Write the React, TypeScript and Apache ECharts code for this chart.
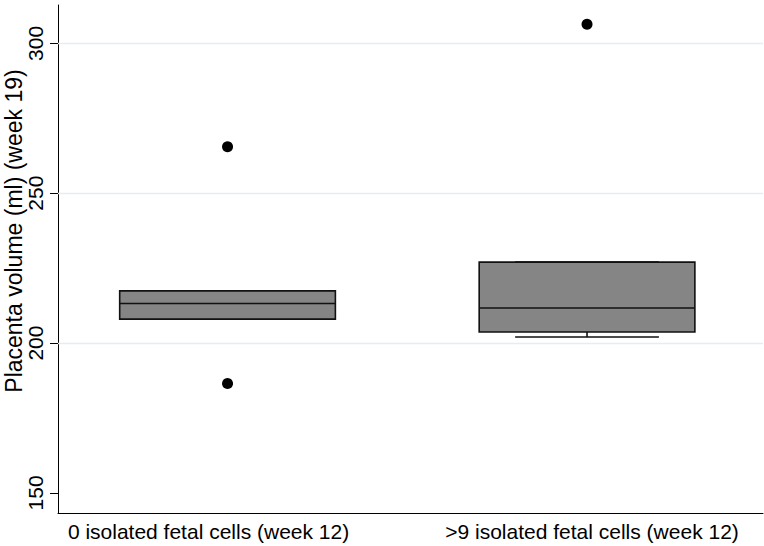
import React, { useEffect, useRef } from "react";
import * as echarts from "echarts";

const categories = ["0 isolated fetal cells (week 12)", ">9 isolated fetal cells (week 12)"];
// [lower adjacent, Q1, median, Q3, upper adjacent]
const boxStats = [
  [208.0, 208.0, 213.2, 217.4, 217.4],
  [202.0, 203.7, 211.7, 227.0, 227.0],
];
const outliers = [
  [0, 265.5],
  [0, 186.5],
  [1, 306.4],
];
const yTicks = [150, 200, 250, 300];
const gridValues = [200, 250, 300];
const yTitle = "Placenta volume (ml) (week 19)";

const FONT = "Liberation Sans, Arial, Helvetica, sans-serif";

export default function App() {
  const ref = useRef<HTMLDivElement>(null);
  useEffect(() => {
    if (!ref.current) return;
    const chart = echarts.init(ref.current, null, { renderer: "svg" });
    const boxData = boxStats.map((s, i) => [i, ...s]);
    chart.setOption({
      animation: false,
      grid: { left: 58, right: 1, top: 5, bottom: 33, containLabel: false },
      xAxis: {
        type: "value",
        min: -0.4716,
        max: 1.4895,
        splitLine: { show: false },
        axisLine: { show: true, onZero: false, lineStyle: { color: "#000", width: 1 } },
        axisTick: { show: false },
        axisLabel: {
          customValues: [0, 1],
          formatter: (v: number) => {
            const i = Math.round(v);
            return i === 0 ? `{a|${categories[0]}}` : `{b|${categories[1]}}`;
          },
          color: "#000",
          fontFamily: FONT,
          fontSize: 21,
          margin: 8,
          rich: {
            a: { fontFamily: FONT, fontSize: 21, color: "#000", padding: [0, 38, 0, 0] },
            b: { fontFamily: FONT, fontSize: 21, color: "#000", padding: [0, 0, 0, 10] },
          },
        },
      },
      yAxis: {
        type: "value",
        min: 143.3,
        max: 312.8,
        splitLine: { show: false },
        axisLine: { show: true, onZero: false, lineStyle: { color: "#000", width: 1 } },
        axisTick: { show: true, customValues: yTicks, length: 8, lineStyle: { color: "#000" } },
        axisLabel: {
          customValues: yTicks,
          rotate: 90,
          color: "#000",
          fontFamily: FONT,
          fontSize: 21,
          margin: 12,
        },
      },
      graphic: [
        {
          type: "text",
          x: 2,
          y: 231,
          rotation: Math.PI / 2,
          style: {
            text: yTitle,
            fill: "#000",
            font: `23px ${FONT}`,
            align: "center",
            verticalAlign: "top",
          },
        },
      ],
      series: [
        {
          type: "line",
          data: [],
          z: 1,
          silent: true,
          markLine: {
            silent: true,
            symbol: "none",
            label: { show: false },
            lineStyle: { color: "#e6ecef", width: 1.3, type: "solid" },
            data: gridValues.map((v) => ({ yAxis: v })),
          },
        },
        {
          type: "custom",
          z: 3,
          data: boxData,
          renderItem: (params: any, api: any) => {
            const x = api.value(0);
            const lo = api.value(1);
            const q1 = api.value(2);
            const med = api.value(3);
            const q3 = api.value(4);
            const hi = api.value(5);
            const bw = api.size([0.6, 0])[0];
            const cw = api.size([0.4, 0])[0];
            const pLo = api.coord([x, lo]);
            const pQ1 = api.coord([x, q1]);
            const pMed = api.coord([x, med]);
            const pQ3 = api.coord([x, q3]);
            const pHi = api.coord([x, hi]);
            const cx = pMed[0];
            const stroke = { stroke: "#111", lineWidth: 1.6 };
            return {
              type: "group",
              children: [
                { type: "line", shape: { x1: cx, y1: pQ1[1], x2: cx, y2: pLo[1] }, style: stroke },
                { type: "line", shape: { x1: cx, y1: pQ3[1], x2: cx, y2: pHi[1] }, style: stroke },
                { type: "line", shape: { x1: cx - cw / 2, y1: pLo[1], x2: cx + cw / 2, y2: pLo[1] }, style: stroke },
                { type: "line", shape: { x1: cx - cw / 2, y1: pHi[1], x2: cx + cw / 2, y2: pHi[1] }, style: stroke },
                {
                  type: "rect",
                  shape: { x: cx - bw / 2, y: pQ3[1], width: bw, height: pQ1[1] - pQ3[1] },
                  style: { fill: "#858585", stroke: "#111", lineWidth: 1.6 },
                },
                { type: "line", shape: { x1: cx - bw / 2, y1: pMed[1], x2: cx + bw / 2, y2: pMed[1] }, style: stroke },
              ],
            };
          },
        },
        {
          type: "scatter",
          z: 4,
          data: outliers,
          symbol: "circle",
          symbolSize: 11,
          itemStyle: { color: "#000", opacity: 1 },
        },
      ],
    });
    return () => chart.dispose();
  }, []);
  return <div ref={ref} style={{ width: 764, height: 546, position: "absolute", left: 0, top: 0 }} />;
}
